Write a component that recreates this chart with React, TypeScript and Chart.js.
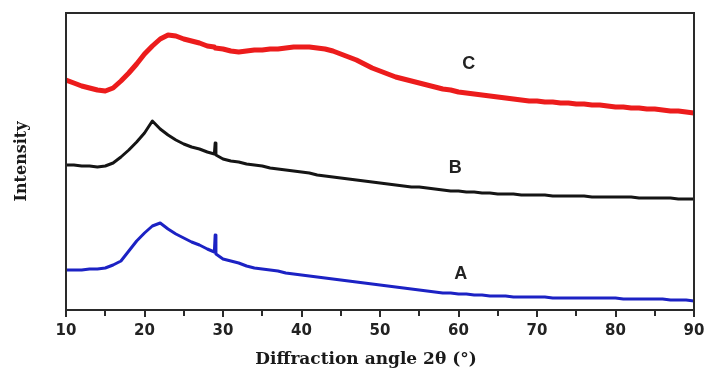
import { useEffect, useRef } from 'react';
import { Chart, registerables } from 'chart.js';

Chart.register(...registerables);

// 2θ angles (degrees); extra points near 29° capture the sharp reflections
const angles = [
  10, 11, 12, 13, 14, 15, 16, 17, 18, 19, 20, 21, 22, 23, 24, 25, 26, 27, 28, 28.9, 29, 29.1,
  30, 31, 32, 33, 34, 35, 36, 37, 38, 39, 40, 41, 42, 43, 44, 45, 46, 47, 48, 49, 50,
  51, 52, 53, 54, 55, 56, 57, 58, 59, 60, 61, 62, 63, 64, 65, 66, 67, 68, 69, 70,
  71, 72, 73, 74, 75, 76, 77, 78, 79, 80, 81, 82, 83, 84, 85, 86, 87, 88, 89, 90,
];

// Intensity (arbitrary units, offset stacked)
const seriesC = [
  230, 227, 224, 222, 220, 219, 222, 229, 237, 246, 256, 264, 271, 275, 274, 271, 269, 267, 264, 263, 262, 262,
  261, 259, 258, 259, 260, 260, 261, 261, 262, 263, 263, 263, 262, 261, 259, 256, 253, 250, 246, 242, 239,
  236, 233, 231, 229, 227, 225, 223, 221, 220, 218, 217, 216, 215, 214, 213, 212, 211, 210, 209, 209,
  208, 208, 207, 207, 206, 206, 205, 205, 204, 203, 203, 202, 202, 201, 201, 200, 199, 199, 198, 197,
];

const seriesB = [
  145, 145, 144, 144, 143, 144, 147, 153, 160, 168, 177, 189, 181, 175, 170, 166, 163, 161, 158, 156, 167, 155,
  151, 149, 148, 146, 145, 144, 142, 141, 140, 139, 138, 137, 135, 134, 133, 132, 131, 130, 129, 128, 127,
  126, 125, 124, 123, 123, 122, 121, 120, 119, 119, 118, 118, 117, 117, 116, 116, 116, 115, 115, 115,
  115, 114, 114, 114, 114, 114, 113, 113, 113, 113, 113, 113, 112, 112, 112, 112, 112, 111, 111, 111,
];

const seriesA = [
  40, 40, 40, 41, 41, 42, 45, 49, 59, 69, 77, 84, 87, 81, 76, 72, 68, 65, 61, 58, 75, 56,
  51, 49, 47, 44, 42, 41, 40, 39, 37, 36, 35, 34, 33, 32, 31, 30, 29, 28, 27, 26, 25,
  24, 23, 22, 21, 20, 19, 18, 17, 17, 16, 16, 15, 15, 14, 14, 14, 13, 13, 13, 13,
  13, 12, 12, 12, 12, 12, 12, 12, 12, 12, 11, 11, 11, 11, 11, 11, 10, 10, 10, 9,
];

const curveNames = ['A', 'B', 'C'];
const curveLabelAngles = [60.3, 59.6, 61.3];
const curveLabelValues = [36, 142, 246];

const xTickValues = [10, 20, 30, 40, 50, 60, 70, 80, 90];
const xMinorTickValues = [15, 25, 35, 45, 55, 65, 75, 85];
const xTitle = 'Diffraction angle 2θ (°)';

const framePlugin = {
  id: 'frame',
  afterDatasetsDraw(chart: any) {
    const { ctx, chartArea, scales } = chart;
    ctx.save();
    ctx.strokeStyle = '#2a2a2a';
    ctx.lineWidth = 2;
    ctx.strokeRect(chartArea.left, chartArea.top, chartArea.right - chartArea.left, chartArea.bottom - chartArea.top);
    ctx.fillStyle = '#2a2a2a';
    xTickValues.forEach((v) => {
      const px = Math.round(scales.x.getPixelForValue(v));
      ctx.fillRect(px - 1, chartArea.bottom, 2, 7);
    });
    xMinorTickValues.forEach((v) => {
      const px = Math.round(scales.x.getPixelForValue(v));
      ctx.fillRect(px - 1, chartArea.bottom, 2, 5);
    });
    ctx.restore();
  },
};

const xTitlePlugin = {
  id: 'xTitle',
  afterDraw(chart: any) {
    const { ctx, chartArea, height } = chart;
    ctx.save();
    ctx.font = 'bold 17px "DejaVu Serif", serif';
    ctx.fillStyle = '#1a1a1a';
    ctx.textAlign = 'center';
    ctx.textBaseline = 'middle';
    const cx = (chartArea.left + chartArea.right) / 2 - 14;
    ctx.fillText(xTitle, cx, height - 13);
    ctx.restore();
  },
};

const curveLabelPlugin = {
  id: 'curveLabels',
  afterDatasetsDraw(chart: any) {
    const { ctx, scales } = chart;
    ctx.save();
    ctx.font = 'bold 18px "Liberation Sans", Arial, sans-serif';
    ctx.fillStyle = '#222';
    ctx.textAlign = 'center';
    ctx.textBaseline = 'middle';
    curveNames.forEach((name, i) => {
      ctx.fillText(name, scales.x.getPixelForValue(curveLabelAngles[i]), scales.y.getPixelForValue(curveLabelValues[i]));
    });
    ctx.restore();
  },
};

export default function App() {
  const ref = useRef<HTMLCanvasElement | null>(null);

  useEffect(() => {
    if (!ref.current) return;
    const toPts = (vals: number[]) => angles.map((a, i) => ({ x: a, y: vals[i] }));
    const common = { pointRadius: 0, tension: 0, borderJoinStyle: 'round' as const, borderCapStyle: 'round' as const };
    const chart = new Chart(ref.current, {
      type: 'line',
      data: {
        datasets: [
          { label: 'C', data: toPts(seriesC), borderColor: '#ec1c1c', borderWidth: 5, ...common },
          { label: 'B', data: toPts(seriesB), borderColor: '#151515', borderWidth: 3, ...common },
          { label: 'A', data: toPts(seriesA), borderColor: '#1c22c4', borderWidth: 3, ...common },
        ],
      },
      options: {
        animation: false,
        responsive: false,
        maintainAspectRatio: false,
        layout: { padding: { left: 0, top: 13, right: 11, bottom: 0 } },
        plugins: { legend: { display: false }, tooltip: { enabled: false } },
        scales: {
          x: {
            type: 'linear',
            min: 10,
            max: 90,
            afterFit: (s: any) => { s.height = 63; s.paddingLeft = 0; s.paddingRight = 0; },
            ticks: {
              stepSize: 5,
              autoSkip: false,
              maxRotation: 0,
              padding: 6,
              color: '#222',
              font: { family: 'DejaVu Sans', weight: 'bold', size: 15 },
              callback: (v: any) => (xTickValues.includes(Number(v)) ? String(v) : ''),
            },
            grid: { display: true, drawOnChartArea: false, drawTicks: true, tickLength: 6, color: '#2a2a2a', lineWidth: 2 },
            border: { display: false },
            title: { display: false },
          },
          y: {
            min: 0,
            max: 297,
            afterFit: (s: any) => { s.width = 66; s.paddingTop = 0; s.paddingBottom = 0; },
            ticks: { display: false },
            grid: { display: false },
            border: { display: false },
            title: {
              display: true,
              text: 'Intensity',
              color: '#1a1a1a',
              font: { family: 'DejaVu Serif', weight: 'bold', size: 16 },
              padding: { top: 12, bottom: 0 },
            },
          },
        },
      },
      plugins: [framePlugin, xTitlePlugin, curveLabelPlugin],
    });
    return () => chart.destroy();
  }, []);

  return (
    <div style={{ position: 'fixed', left: 0, top: 0, width: 705, height: 373, background: '#fff' }}>
      <canvas ref={ref} width={705} height={373} style={{ display: 'block', width: 705, height: 373 }} />
    </div>
  );
}
